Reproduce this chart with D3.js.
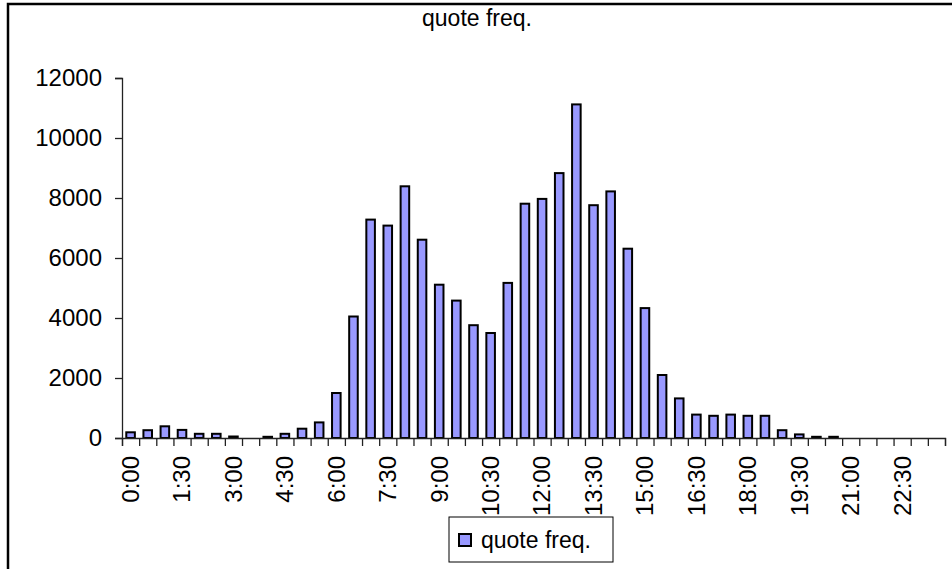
<html>
  <head>
    <script src="https://d3js.org/d3.v7.min.js"></script>
    <style>
      body { margin: 0; background: #fff; }
      text { font-family: Arial, "Liberation Sans", sans-serif; }
    </style>
  </head>
  <body>
    <script>
      // half-hour slots and the quote count in each
      var categories = ["0:00","0:30","1:00","1:30","2:00","2:30","3:00","3:30",
        "4:00","4:30","5:00","5:30","6:00","6:30","7:00","7:30",
        "8:00","8:30","9:00","9:30","10:00","10:30","11:00","11:30",
        "12:00","12:30","13:00","13:30","14:00","14:30","15:00","15:30",
        "16:00","16:30","17:00","17:30","18:00","18:30","19:00","19:30",
        "20:00","20:30","21:00","21:30","22:00","22:30","23:00","23:30"]
      var quoteFreq = [190,260,390,270,140,140,50,0,
        40,140,310,520,1500,4050,7280,7080,
        8390,6610,5110,4580,3760,3500,5170,7810,
        7970,8830,11120,7760,8220,6310,4330,2100,
        1320,780,740,780,740,740,260,120,
        40,40,0,0,0,0,0,0]
      var yTicks = [0,2000,4000,6000,8000,10000,12000]
      var xLabels = ["0:00","1:30","3:00","4:30","6:00","7:30","9:00","10:30",
        "12:00","13:30","15:00","16:30","18:00","19:30","21:00","22:30"]
      var seriesName = "quote freq."

      var width = 952
      var height = 569
      var plotLeft = 122, plotRight = 945, plotTop = 78, plotBottom = 438

      var svg = d3.select("body").append("svg")
        .attr("width", width)
        .attr("height", height);

      // chart frame (runs off the right and bottom edge)
      svg.append("rect")
        .attr("x", 8).attr("y", 4)
        .attr("width", 1000).attr("height", 600)
        .attr("fill", "white")
        .attr("stroke", "black")
        .attr("stroke-width", 2.5);

      var x = d3.scaleBand()
        .domain(categories)
        .range([plotLeft, plotRight])
        .paddingInner(0.5)
        .paddingOuter(0.25);

      var xEdge = d3.scaleLinear()
        .domain([0, categories.length])
        .range([plotLeft, plotRight]);

      var y = d3.scaleLinear()
        .domain([0, 12000])
        .range([plotBottom, plotTop]);

      // title
      svg.append("text")
        .attr("x", 477).attr("y", 26)
        .attr("text-anchor", "middle")
        .style("font-size", "23px")
        .text(seriesName);

      // y axis
      var yAxis = svg.append("g")
        .attr("transform", "translate(" + plotLeft + ",0)")
        .call(d3.axisLeft(y).tickValues(yTicks).tickSize(7).tickPadding(13).tickFormat(d3.format("d")));
      yAxis.selectAll("text").style("font-size", "24px").attr("fill", "black");
      yAxis.selectAll("line, path").attr("stroke", "#222").attr("stroke-width", 1.3);

      // bars
      svg.selectAll("rect.bar")
        .data(quoteFreq.map(function(v, i) { return {cat: categories[i], v: v}; }).filter(function(d) { return d.v > 0; }))
        .enter().append("rect")
        .attr("class", "bar")
        .attr("x", function(d) { return x(d.cat); })
        .attr("width", x.bandwidth())
        .attr("y", function(d) { return y(d.v); })
        .attr("height", function(d) { return y(0) - y(d.v); })
        .attr("fill", "#9999FF")
        .attr("stroke", "black")
        .attr("stroke-width", 2);

      // x axis: ticks between categories
      var xAxis = svg.append("g")
        .attr("transform", "translate(0," + plotBottom + ")")
        .call(d3.axisBottom(xEdge).tickValues(d3.range(categories.length + 1)).tickSize(8).tickFormat(""));
      xAxis.selectAll("line, path").attr("stroke", "#222").attr("stroke-width", 1.3);

      // x labels, rotated
      svg.selectAll("text.xl")
        .data(xLabels)
        .enter().append("text")
        .attr("class", "xl")
        .attr("transform", function(d) {
          return "translate(" + (x(d) + x.bandwidth() / 2) + ",456) rotate(-90)";
        })
        .attr("text-anchor", "end")
        .attr("dy", "0.35em")
        .style("font-size", "24px")
        .text(function(d) { return d; });

      // legend (drawn over the labels, as in the original)
      svg.append("rect")
        .attr("x", 449).attr("y", 517)
        .attr("width", 164).attr("height", 45)
        .attr("fill", "white")
        .attr("stroke", "black")
        .attr("stroke-width", 1);
      svg.append("rect")
        .attr("x", 459).attr("y", 534)
        .attr("width", 12).attr("height", 12)
        .attr("fill", "#9999FF")
        .attr("stroke", "black")
        .attr("stroke-width", 2);
      svg.append("text")
        .attr("x", 481).attr("y", 548)
        .style("font-size", "23px")
        .text(seriesName);
    </script>
  </body>
</html>
